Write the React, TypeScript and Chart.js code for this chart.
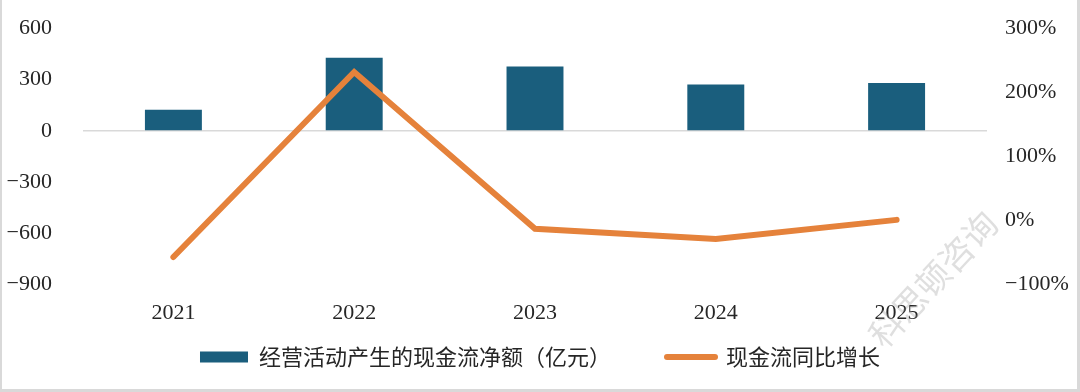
import React, { useEffect, useRef } from "react";
import { Chart, registerables } from "chart.js";

Chart.register(...registerables);

const categories = ["2021", "2022", "2023", "2024", "2025"];
const cashFlow = [124, 429, 378, 272, 280];
const growthPct = [-57, 232, -13, -29, 1];
const leftTicks = { min: -900, max: 600, step: 300 };
const rightTicks = { min: -100, max: 300, step: 100 };
const barLabel = "经营活动产生的现金流净额（亿元）";
const lineLabel = "现金流同比增长";
const watermark = "科思顿咨询";

const BAR_COLOR = "#1A5E7D";
const LINE_COLOR = "#E5823B";
const TEXT_COLOR = "#262626";
const NUM_FONT = "'Liberation Serif', 'Noto Sans CJK SC', serif";
const CJK_FONT = "'Noto Sans CJK SC', 'Liberation Serif', sans-serif";

const minus = (v: number) => (v < 0 ? "\u2212" + Math.abs(v) : String(v));

const framePlugin = {
  id: "frame",
  afterDraw(chart: any) {
    const { ctx, width, height } = chart;
    ctx.save();
    ctx.translate(933, 279);
    ctx.rotate((-47 * Math.PI) / 180);
    ctx.font = `34px ${CJK_FONT}`;
    ctx.textAlign = "center";
    ctx.textBaseline = "middle";
    ctx.fillStyle = "rgba(150,150,150,0.3)";
    ctx.fillText(watermark, 0, 0);
    ctx.restore();
    ctx.save();
    ctx.fillStyle = "#D9D9D9";
    ctx.fillRect(0, 0, 2, height);
    ctx.fillRect(width - 3, 0, 3, height);
    ctx.fillRect(0, height - 3, width, 3);
    ctx.restore();
  },
};

const noVPad = (s: any) => {
  s.paddingTop = 0;
  s.paddingBottom = 0;
};

export default function App() {
  const ref = useRef<HTMLCanvasElement | null>(null);

  useEffect(() => {
    if (!ref.current) return;
    const chart = new Chart(ref.current, {
      type: "bar",
      data: {
        labels: categories,
        datasets: [
          {
            type: "bar",
            label: barLabel,
            data: cashFlow,
            backgroundColor: BAR_COLOR,
            yAxisID: "y",
            categoryPercentage: 1,
            barPercentage: 0.315,
            order: 2,
          } as any,
          {
            type: "line",
            label: lineLabel,
            data: growthPct,
            borderColor: LINE_COLOR,
            backgroundColor: LINE_COLOR,
            borderWidth: 6,
            pointRadius: 0,
            tension: 0,
            borderCapStyle: "round",
            borderJoinStyle: "miter",
            yAxisID: "y1",
            order: 1,
          } as any,
        ],
      },
      options: {
        responsive: false,
        animation: false,
        layout: { padding: { top: 28.5, bottom: 14, left: 0, right: 0 } },
        plugins: {
          tooltip: { enabled: false },
          legend: {
            position: "bottom",
            labels: {
              usePointStyle: true,
              pointStyleWidth: 48,
              boxHeight: 11,
              padding: 12,
              color: TEXT_COLOR,
              font: { family: CJK_FONT, size: 22 },
              generateLabels: () => [
                {
                  text: barLabel + "\u3000\u3000\u2002",
                  fillStyle: BAR_COLOR,
                  strokeStyle: BAR_COLOR,
                  lineWidth: 0,
                  pointStyle: "rect",
                  hidden: false,
                  datasetIndex: 0,
                  fontColor: TEXT_COLOR,
                } as any,
                {
                  text: lineLabel,
                  fillStyle: LINE_COLOR,
                  strokeStyle: LINE_COLOR,
                  lineWidth: 6,
                  lineCap: "round",
                  pointStyle: "line",
                  hidden: false,
                  datasetIndex: 1,
                  fontColor: TEXT_COLOR,
                } as any,
              ],
            },
          },
        },
        scales: {
          x: {
            grid: { display: false },
            border: { display: false },
            ticks: {
              color: TEXT_COLOR,
              font: { family: NUM_FONT, size: 22 },
              padding: 8,
              maxRotation: 0,
            },
            afterFit: (s: any) => {
              s.height = 49.5;
            },
          },
          y: {
            position: "left",
            min: leftTicks.min,
            max: leftTicks.max,
            border: { display: false },
            grid: {
              drawTicks: false,
              lineWidth: 1.5,
              color: (c: any) => (c.tick && c.tick.value === 0 ? "#D9D9D9" : "rgba(0,0,0,0)"),
            },
            ticks: {
              stepSize: leftTicks.step,
              color: TEXT_COLOR,
              font: { family: NUM_FONT, size: 22 },
              padding: 31,
              callback: (v: any) => minus(Number(v)),
            },
            afterFit: (s: any) => {
              s.width = 83;
              noVPad(s);
            },
          },
          y1: {
            position: "right",
            min: rightTicks.min,
            max: rightTicks.max,
            border: { display: false },
            grid: { display: false, drawTicks: false },
            ticks: {
              stepSize: rightTicks.step,
              color: TEXT_COLOR,
              font: { family: NUM_FONT, size: 22 },
              padding: 18,
              callback: (v: any) => minus(Number(v)) + "%",
            },
            afterFit: (s: any) => {
              s.width = 93;
              noVPad(s);
            },
          },
        },
      },
      plugins: [framePlugin],
    } as any);
    return () => chart.destroy();
  }, []);

  return (
    <div style={{ position: "fixed", left: 0, top: 0, width: 1080, height: 392, background: "#fff" }}>
      <canvas ref={ref} width={1080} height={392} style={{ display: "block", width: 1080, height: 392 }} />
    </div>
  );
}
